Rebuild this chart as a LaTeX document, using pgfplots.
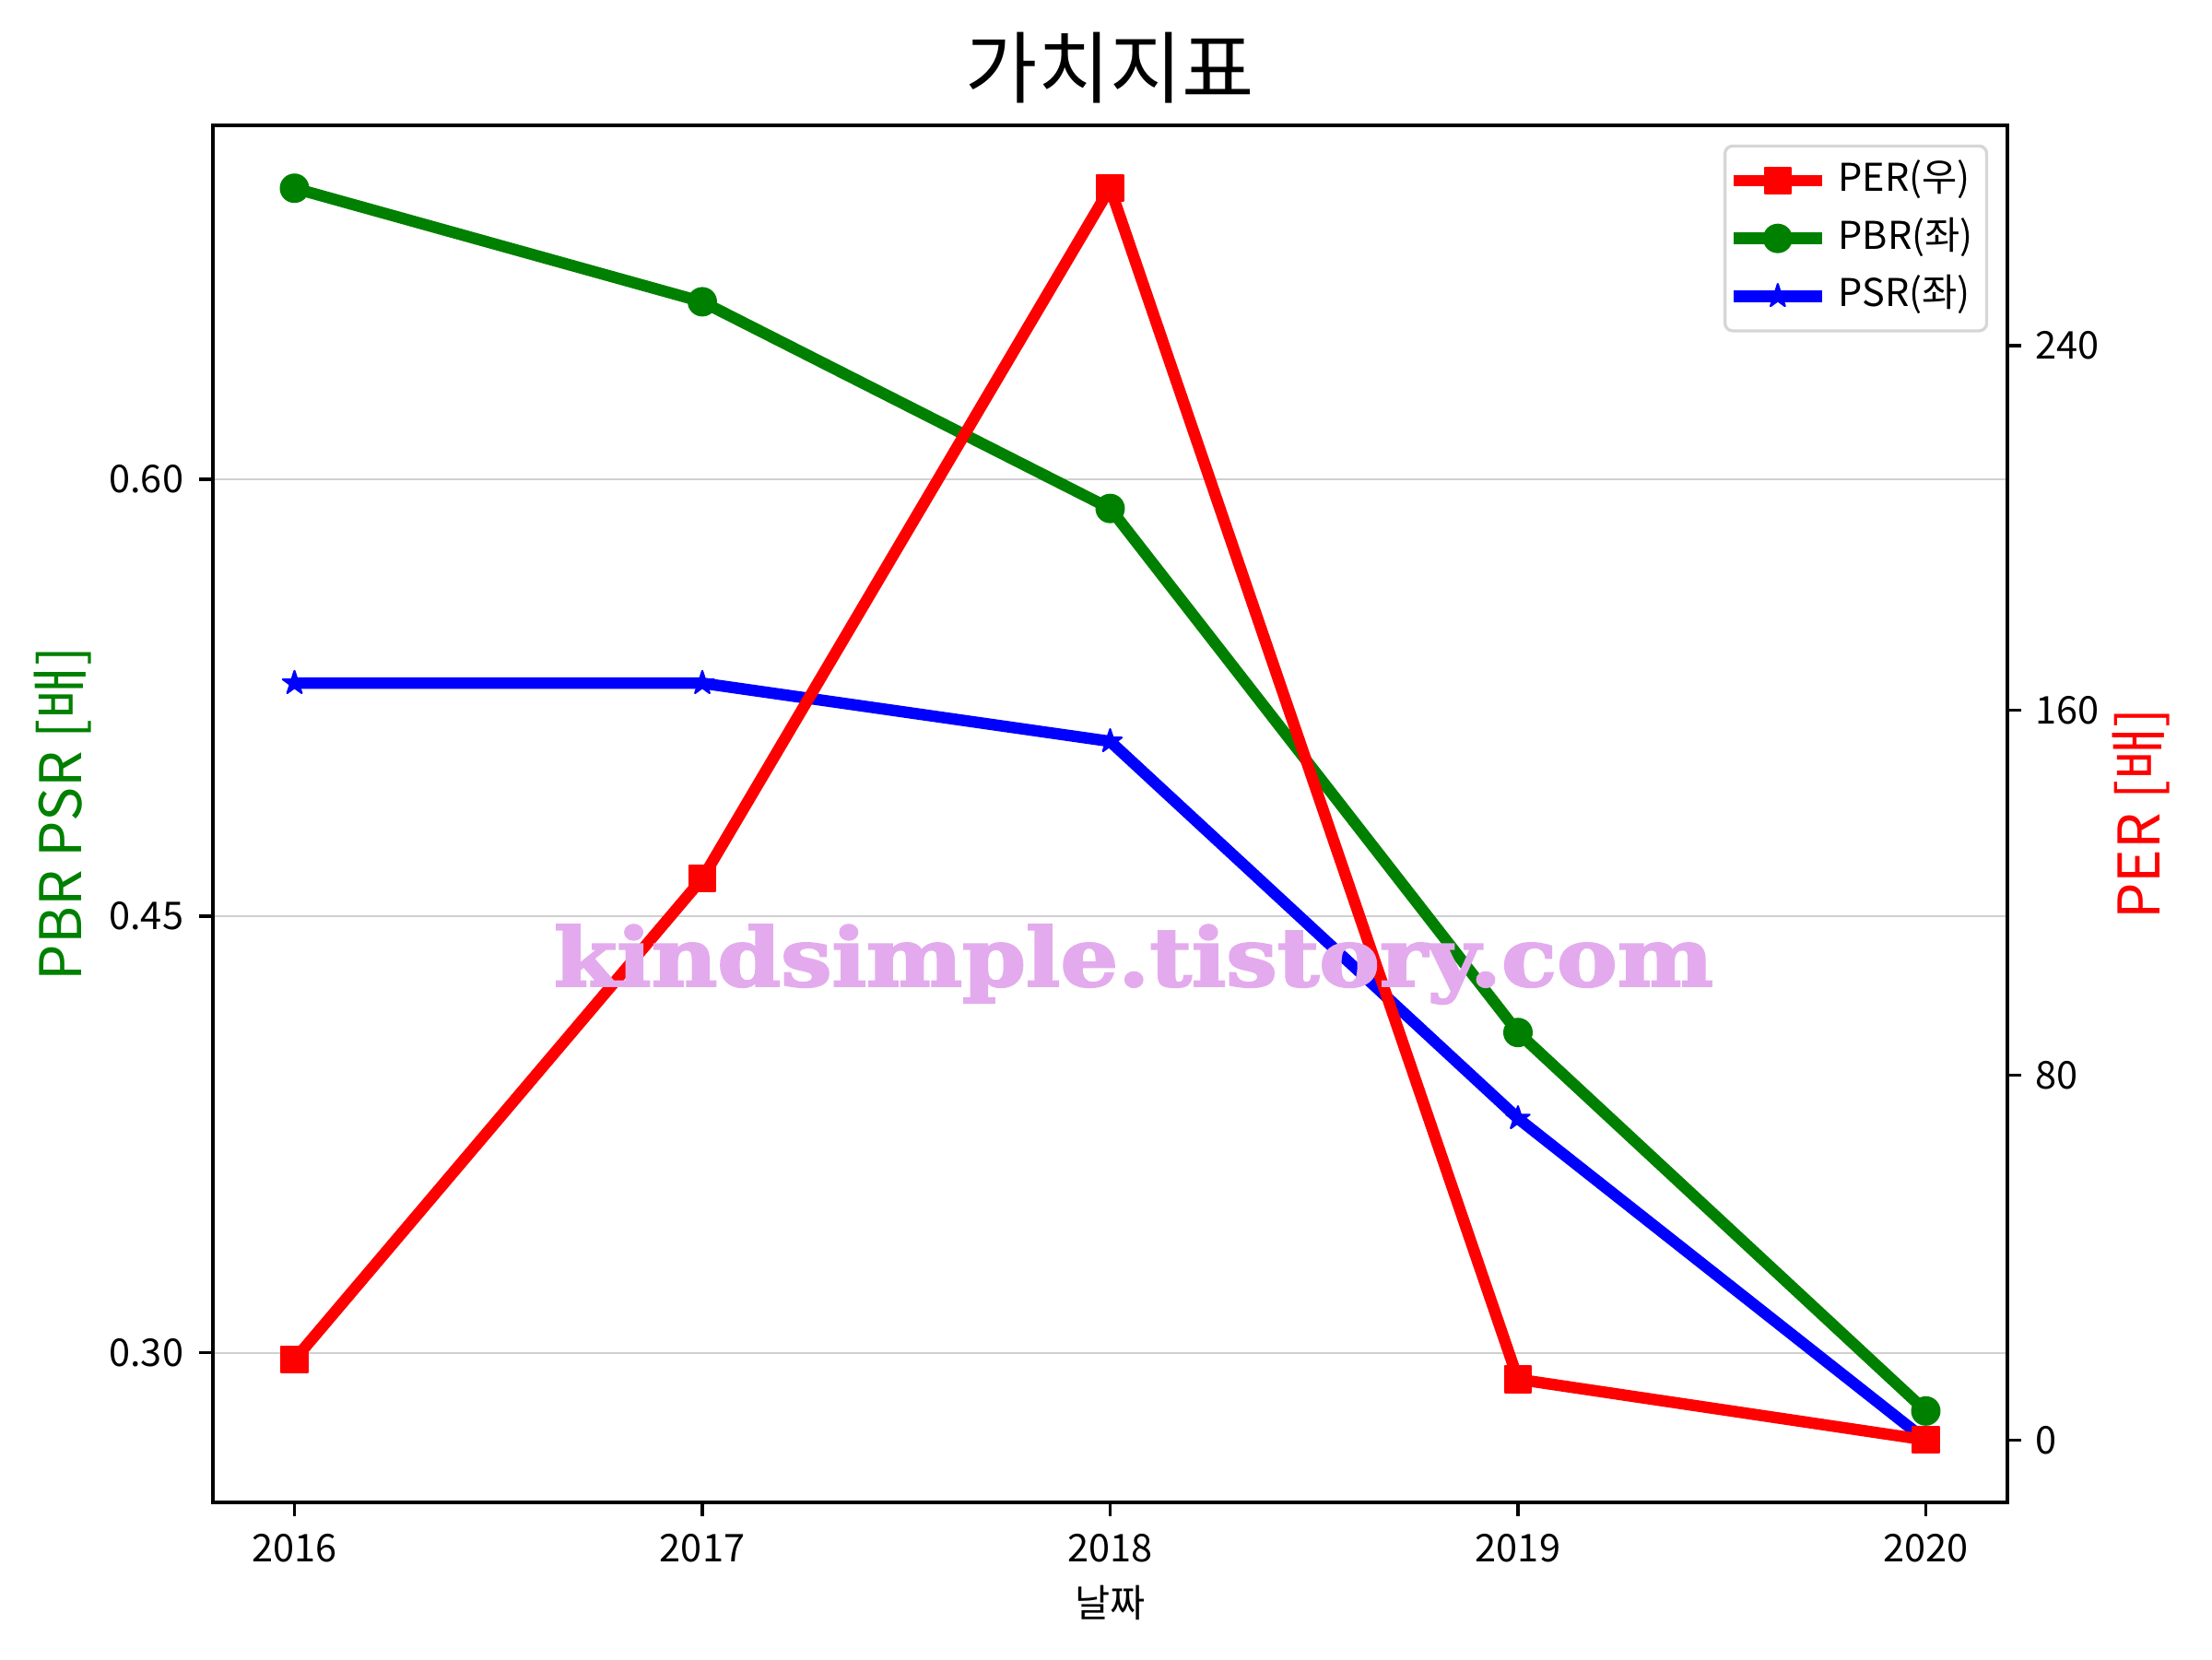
\documentclass[border=0pt]{standalone}
\usepackage{fontspec}
\setmainfont{Noto Sans CJK KR}
\newfontfamily\wmfont{DejaVu Serif}[BoldFeatures={FakeBold=2.5}]
\usepackage{graphicx}
\usepackage{pgfplots}
\pgfplotsset{compat=1.18}
\definecolor{mred}{rgb}{1,0,0}
\definecolor{mgreen}{rgb}{0,0.502,0}
\definecolor{mblue}{rgb}{0,0,1}
\definecolor{wm}{RGB}{227,171,237}
\definecolor{gridc}{RGB}{208,208,208}
\definecolor{legc}{RGB}{214,214,214}
\pgfdeclareplotmark{fstar}{%
  \pgfpathmoveto{\pgfpointpolar{90}{\pgfplotmarksize}}%
  \pgfpathlineto{\pgfpointpolar{126}{0.382\pgfplotmarksize}}%
  \pgfpathlineto{\pgfpointpolar{162}{\pgfplotmarksize}}%
  \pgfpathlineto{\pgfpointpolar{198}{0.382\pgfplotmarksize}}%
  \pgfpathlineto{\pgfpointpolar{234}{\pgfplotmarksize}}%
  \pgfpathlineto{\pgfpointpolar{270}{0.382\pgfplotmarksize}}%
  \pgfpathlineto{\pgfpointpolar{306}{\pgfplotmarksize}}%
  \pgfpathlineto{\pgfpointpolar{342}{0.382\pgfplotmarksize}}%
  \pgfpathlineto{\pgfpointpolar{18}{\pgfplotmarksize}}%
  \pgfpathlineto{\pgfpointpolar{54}{0.382\pgfplotmarksize}}%
  \pgfpathclose
  \pgfusepathqfillstroke
}
\pgfplotsset{
  base/.style={
    scale only axis, width=469.03pt, height=359.9pt,
    at={(55.65pt,40.95pt)}, anchor=south west,
    xmin=2015.8, xmax=2020.2,
    axis line style={line width=0.8pt},
    tick style={line width=0.8pt, black},
    major tick length=3.5pt, tick align=outside,
    tick label style={font=\fontsize{10}{12}\selectfont},
    /pgf/number format/assume math mode=true,
  },
  per/.style={color=mred, line width=3pt, line join=round, mark=square*, mark size=3.4pt, mark options={solid, line width=0.5pt}},
  pbr/.style={color=mgreen, line width=3pt, line join=round, mark=*, mark size=3.6pt, mark options={solid, line width=0.5pt}},
  psr/.style={color=mblue, line width=3pt, line join=round, mark=fstar, mark size=3.2pt, mark options={solid, line width=0.5pt}},
}
\begin{document}
\begin{tikzpicture}
\path[use as bounding box] (0,0) rectangle (578.16pt,433.62pt);
\begin{axis}[base,
  tick pos=left,
  xtick={2016,2017,2018,2019,2020},
  xticklabels={2016,2017,2018,2019,2020},
  xticklabel style={anchor=north, inner sep=0pt, yshift=-4.6pt},
  ymin=0.2486, ymax=0.7216,
  ytick={0.30,0.45,0.60},
  yticklabels={0.30,0.45,0.60},
  yticklabel style={anchor=east, inner sep=0pt, xshift=-4pt},
  ymajorgrids, grid style={line width=0.5pt, gridc},
  xlabel={날짜}, ylabel={PBR PSR [배]}, title={가치지표},
  every axis x label/.style={at={(axis description cs:0.5,-0.073)}, anchor=center, font=\fontsize{10}{12}\selectfont},
  every axis y label/.style={at={(axis description cs:-0.0837,0.5)}, anchor=center, rotate=90, font=\fontsize{15}{18}\selectfont, text=mgreen},
  every axis title/.style={at={(axis description cs:0.5,1.042)}, anchor=center, font=\fontsize{20.5}{24}\selectfont},
]
\addplot[pbr] coordinates {(2016,0.700) (2017,0.661) (2018,0.590) (2019,0.410) (2020,0.280)};
\addplot[psr] coordinates {(2016,0.530) (2017,0.530) (2018,0.510) (2019,0.3805) (2020,0.270)};
\end{axis}
\begin{axis}[base,
  hide x axis, axis y line*=right,
  ymin=-13.7, ymax=288.3,
  ytick={0,80,160,240},
  yticklabel style={anchor=west, inner sep=0pt, xshift=3.6pt},
  ylabel={PER [배]},
  every axis y label/.style={at={(axis description cs:1.0745,0.5)}, anchor=center, rotate=90, font=\fontsize{15}{18}\selectfont, text=mred},
  legend image code/.code={\draw[mark repeat=2, mark phase=2, #1] plot coordinates {(0pt,0pt) (11.5pt,0pt) (23pt,0pt)};},
  legend style={at={(axis description cs:1,1)}, anchor=north east, xshift=-5pt, yshift=-5pt,
    draw=legc, line width=0.8pt, rounded corners=2pt, fill=white,
    font=\fontsize{10}{12}\selectfont, inner xsep=0.8pt, inner ysep=1.5pt, row sep=0pt,
    nodes={text height=7.5pt, text depth=2pt, inner sep=2.8pt}},
  legend cell align=left,
]
\addplot[per] coordinates {(2016,17.6) (2017,123.1) (2018,274.6) (2019,13.3) (2020,0)};
\addlegendentry{PER(우)}
\addlegendimage{pbr}
\addlegendentry{PBR(좌)}
\addlegendimage{psr}
\addlegendentry{PSR(좌)}
\end{axis}
\node[anchor=base, inner sep=0pt, text=wm] at (296.3pt,175.9pt) {\resizebox*{303pt}{20.7pt}{\wmfont\bfseries kindsimple.tistory.com}};
\end{tikzpicture}
\end{document}
